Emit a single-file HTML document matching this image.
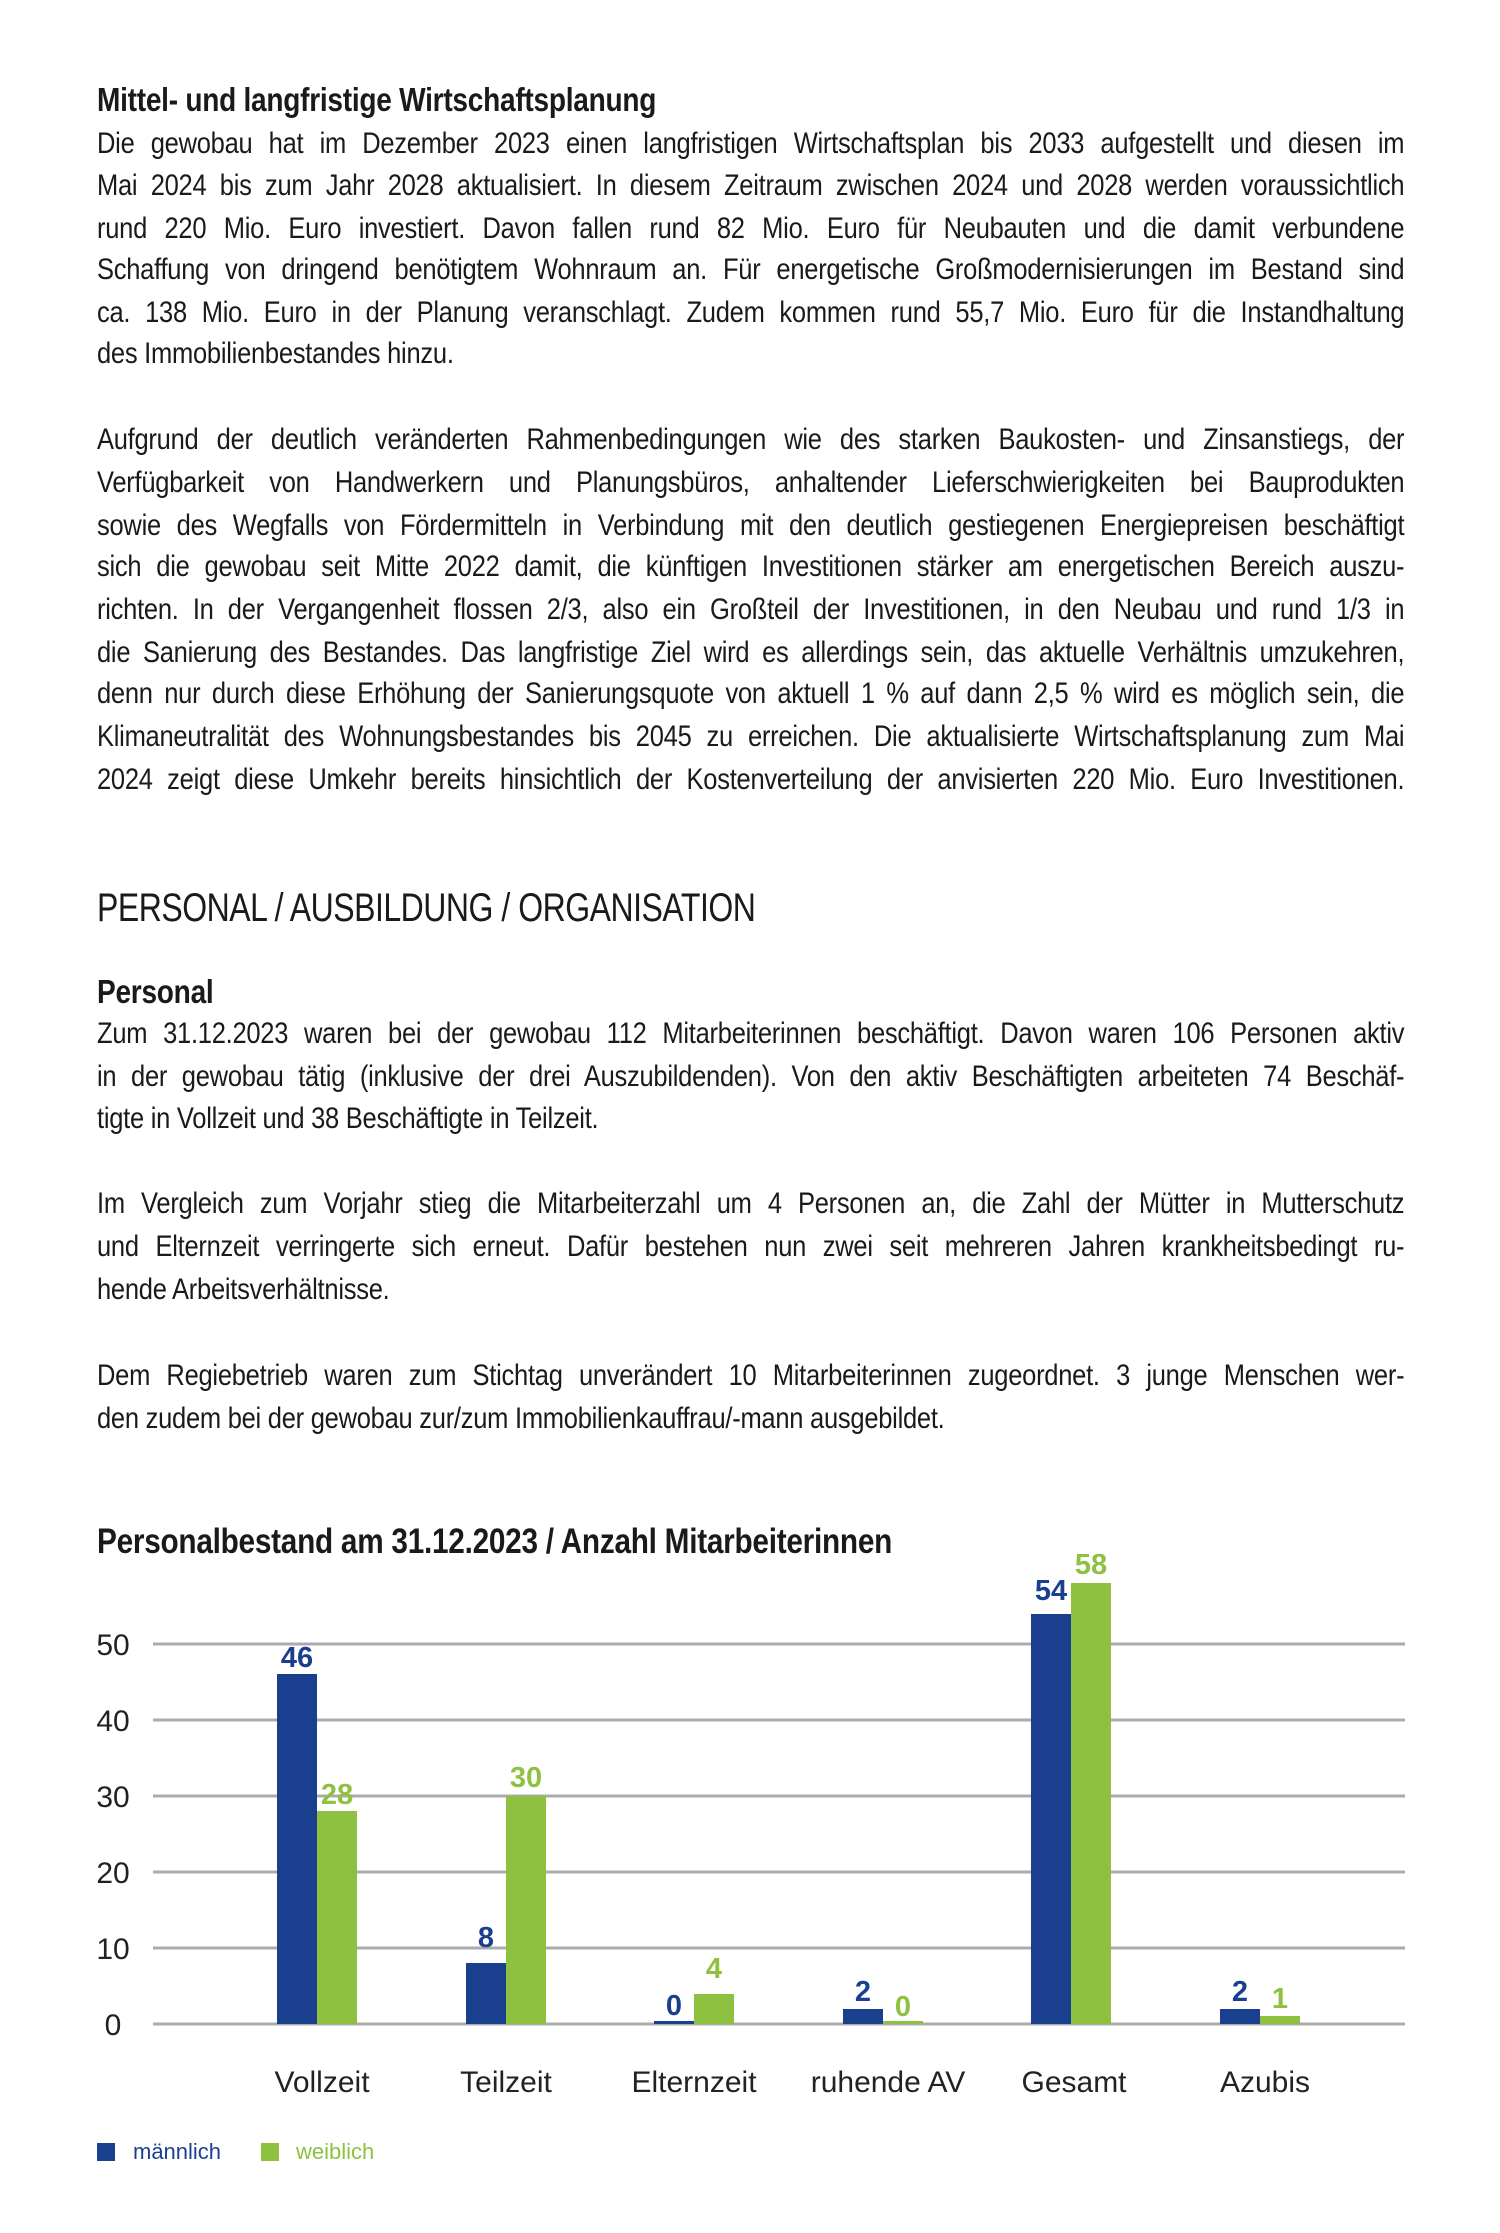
<!DOCTYPE html>
<html><head><meta charset="utf-8"><style>
body{margin:0;width:1500px;height:2233px;background:#fff;position:relative;overflow:hidden;font-family:"Liberation Sans",sans-serif;color:#1a1a1a}
.l{position:absolute;left:97px;width:1538px;font-size:30px;line-height:42px;height:42px;white-space:nowrap;text-align:justify;text-align-last:justify;letter-spacing:-0.3px;transform:scaleX(0.85);transform-origin:0 0}
.e{text-align-last:left}
.b{font-weight:bold;text-align-last:left;letter-spacing:-0.3px;font-size:33px}
</style></head><body>
<div class="l b" style="top:79px">Mittel- und langfristige Wirtschaftsplanung</div>
<div class="l" style="top:123px">Die gewobau hat im Dezember 2023 einen langfristigen Wirtschaftsplan bis 2033 aufgestellt und diesen im</div>
<div class="l" style="top:165px">Mai 2024 bis zum Jahr 2028 aktualisiert. In diesem Zeitraum zwischen 2024 und 2028 werden voraussichtlich</div>
<div class="l" style="top:208px">rund 220 Mio. Euro investiert. Davon fallen rund 82 Mio. Euro für Neubauten und die damit verbundene</div>
<div class="l" style="top:249px">Schaffung von dringend benötigtem Wohnraum an. Für energetische Großmodernisierungen im Bestand sind</div>
<div class="l" style="top:292px">ca. 138 Mio. Euro in der Planung veranschlagt. Zudem kommen rund 55,7 Mio. Euro für die Instandhaltung</div>
<div class="l e" style="top:333px">des Immobilienbestandes hinzu.</div>

<div class="l" style="top:419px">Aufgrund der deutlich veränderten Rahmenbedingungen wie des starken Baukosten- und Zinsanstiegs, der</div>
<div class="l" style="top:462px">Verfügbarkeit von Handwerkern und Planungsbüros, anhaltender Lieferschwierigkeiten bei Bauprodukten</div>
<div class="l" style="top:505px">sowie des Wegfalls von Fördermitteln in Verbindung mit den deutlich gestiegenen Energiepreisen beschäftigt</div>
<div class="l" style="top:546px">sich die gewobau seit Mitte 2022 damit, die künftigen Investitionen stärker am energetischen Bereich auszu-</div>
<div class="l" style="top:589px">richten. In der Vergangenheit flossen 2/3, also ein Großteil der Investitionen, in den Neubau und rund 1/3 in</div>
<div class="l" style="top:632px">die Sanierung des Bestandes. Das langfristige Ziel wird es allerdings sein, das aktuelle Verhältnis umzukehren,</div>
<div class="l" style="top:673px">denn nur durch diese Erhöhung der Sanierungsquote von aktuell 1 % auf dann 2,5 % wird es möglich sein, die</div>
<div class="l" style="top:716px">Klimaneutralität des Wohnungsbestandes bis 2045 zu erreichen. Die aktualisierte Wirtschaftsplanung zum Mai</div>
<div class="l" style="top:759px">2024 zeigt diese Umkehr bereits hinsichtlich der Kostenverteilung der anvisierten 220 Mio. Euro Investitionen.</div>

<div class="l e" style="top:884px;font-size:40px;height:48px;line-height:48px;letter-spacing:-0.6px;transform:scaleX(0.8)">PERSONAL / AUSBILDUNG / ORGANISATION</div>

<div class="l b" style="top:971px">Personal</div>
<div class="l" style="top:1013px">Zum 31.12.2023 waren bei der gewobau 112 Mitarbeiterinnen beschäftigt. Davon waren 106 Personen aktiv</div>
<div class="l" style="top:1056px">in der gewobau tätig (inklusive der drei Auszubildenden). Von den aktiv Beschäftigten arbeiteten 74 Beschäf-</div>
<div class="l e" style="top:1098px">tigte in Vollzeit und 38 Beschäftigte in Teilzeit.</div>

<div class="l" style="top:1183px">Im Vergleich zum Vorjahr stieg die Mitarbeiterzahl um 4 Personen an, die Zahl der Mütter in Mutterschutz</div>
<div class="l" style="top:1226px">und Elternzeit verringerte sich erneut. Dafür bestehen nun zwei seit mehreren Jahren krankheitsbedingt ru-</div>
<div class="l e" style="top:1269px">hende Arbeitsverhältnisse.</div>

<div class="l" style="top:1355px">Dem Regiebetrieb waren zum Stichtag unverändert 10 Mitarbeiterinnen zugeordnet. 3 junge Menschen wer-</div>
<div class="l e" style="top:1398px">den zudem bei der gewobau zur/zum Immobilienkauffrau/-mann ausgebildet.</div>

<div class="l b" style="top:1521px;font-size:35px">Personalbestand am 31.12.2023 / Anzahl Mitarbeiterinnen</div>

<svg style="position:absolute;left:0;top:0" width="1500" height="2233" font-family="Liberation Sans, sans-serif">
<g transform="translate(0,-3)">
<g stroke="#ababab" stroke-width="3">
<line x1="153" x2="1405" y1="1647" y2="1647"/><line x1="153" x2="1405" y1="1723" y2="1723"/>
<line x1="153" x2="1405" y1="1799" y2="1799"/><line x1="153" x2="1405" y1="1875" y2="1875"/>
<line x1="153" x2="1405" y1="1951" y2="1951"/><line x1="153" x2="1405" y1="2027" y2="2027"/>
</g>
<g font-size="30" fill="#222" text-anchor="middle">
<text x="113" y="1658">50</text><text x="113" y="1734">40</text><text x="113" y="1810">30</text>
<text x="113" y="1886">20</text><text x="113" y="1962">10</text><text x="113" y="2038">0</text>
</g>
<g fill="#1b3f8f">
<rect x="277" y="1677" width="40" height="350"/>
<rect x="466" y="1966" width="40" height="61"/>
<rect x="654" y="2024" width="40" height="3"/>
<rect x="843" y="2012" width="40" height="15"/>
<rect x="1031" y="1617" width="40" height="410"/>
<rect x="1220" y="2012" width="40" height="15"/>
</g>
<g fill="#8dc13f">
<rect x="317" y="1814" width="40" height="213"/>
<rect x="506" y="1799" width="40" height="228"/>
<rect x="694" y="1997" width="40" height="30"/>
<rect x="883" y="2024" width="40" height="3"/>
<rect x="1071" y="1586" width="40" height="441"/>
<rect x="1260" y="2019" width="40" height="8"/>
</g>
<g font-size="29" font-weight="bold" text-anchor="middle" fill="#1b3f8f">
<text x="297" y="1670">46</text><text x="486" y="1950">8</text><text x="674" y="2018">0</text>
<text x="863" y="2004">2</text><text x="1051" y="1603">54</text><text x="1240" y="2004">2</text>
</g>
<g font-size="29" font-weight="bold" text-anchor="middle" fill="#8dc13f">
<text x="337" y="1807">28</text><text x="526" y="1790">30</text><text x="714" y="1981">4</text>
<text x="903" y="2019">0</text><text x="1091" y="1577">58</text><text x="1280" y="2011">1</text>
</g>
<g font-size="30" fill="#222" text-anchor="middle">
<text x="322" y="2095">Vollzeit</text><text x="506" y="2095">Teilzeit</text><text x="694" y="2095">Elternzeit</text>
<text x="888" y="2095">ruhende AV</text><text x="1074" y="2095">Gesamt</text><text x="1265" y="2095">Azubis</text>
</g>
</g>
<rect x="97" y="2143" width="18" height="18" fill="#1b3f8f"/>
<text x="133" y="2159" font-size="22" fill="#1b3f8f">männlich</text>
<rect x="261" y="2143" width="18" height="18" fill="#8dc13f"/>
<text x="296" y="2159" font-size="22" fill="#8dc13f">weiblich</text>
</svg>
</body></html>
